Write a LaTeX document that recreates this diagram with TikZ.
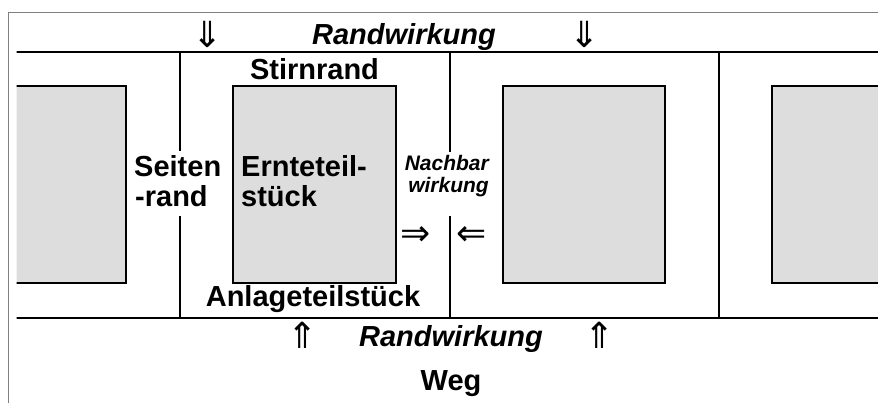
\documentclass[tikz,border=0pt]{standalone}
\usepackage{fontspec}
\setmainfont{Liberation Sans}
\newfontfamily\arrowfont{DejaVu Sans}
\definecolor{plotgray}{HTML}{DDDDDD}
\definecolor{framegray}{HTML}{808080}
\begin{document}
\begin{tikzpicture}[x=1pt,y=-1pt,
  lbl/.style={font=\fontsize{29}{32}\selectfont\bfseries, inner sep=0pt, anchor=base},
  ilbl/.style={font=\fontsize{29}{32}\selectfont\bfseries\itshape, inner sep=0pt, anchor=base},
  slbl/.style={font=\fontsize{21}{23}\selectfont\bfseries\itshape, inner sep=0pt, anchor=base east},
  arr/.style={font=\fontsize{36}{38}\selectfont\arrowfont, inner sep=0pt},
  thick line/.style={line width=2pt, black},
  plot/.style={fill=plotgray, draw=black, line width=2pt}]
\useasboundingbox (0,0) rectangle (878,403);
% outer frame
\draw[framegray, line width=1pt] (8.5,410) -- (8.5,12.5) -- (890,12.5);
\begin{scope}
\clip (16.5,0) rectangle (878,403);
% plots
\draw[plot] (5,86) rectangle (126,283);
\draw[plot] (233,86) rectangle (396,283);
\draw[plot] (503,86) rectangle (665,283);
\draw[plot] (772,86) rectangle (895,283);
% path edges
\draw[thick line] (10,52) -- (890,52);
\draw[thick line] (10,318) -- (890,318);
% vertical borders
\draw[thick line] (180,52) -- (180,151);
\draw[thick line] (180,216) -- (180,318);
\draw[thick line] (450,52) -- (450,152);
\draw[thick line] (450,216) -- (450,318);
\draw[thick line] (719,52) -- (719,318);
\end{scope}
% labels
\node[arr] (d1) at (208,34) {⇓};
\node[arr] (d2) at (585,34) {⇓};
\node[ilbl] (rw1) at (404,45) {Randwirkung};
\node[lbl] (stirn) at (314.5,80) {Stirnrand};
\node[lbl, anchor=base west] (seiten1) at (134,177) {Seiten};
\node[lbl, anchor=base west] (seiten2) at (135,207) {-rand};
\node[lbl, anchor=base west] (ernte1) at (241,177) {Ernteteil-};
\node[lbl, anchor=base west] (ernte2) at (241,207) {stück};
\node[slbl] (nb1) at (489,171) {Nachbar};
\node[slbl] (nb2) at (489,193) {wirkung};
\node[arr] (r1) at (416,236) {⇒};
\node[arr] (l1) at (472,236) {⇐};
\node[lbl] (anlage) at (313,307) {Anlageteilstück};
\node[arr] (u1) at (303,335) {⇑};
\node[arr] (u2) at (600,335) {⇑};
\node[ilbl] (rw2) at (451,346) {Randwirkung};
\node[lbl] (weg) at (451,390) {Weg};
\end{tikzpicture}
\end{document}
